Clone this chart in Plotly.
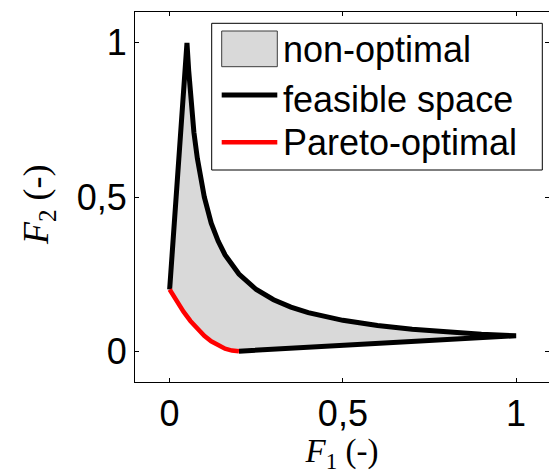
import plotly.graph_objects as go

# Pareto-optimal front (red)
front_x = [0.00, 0.02, 0.04, 0.06, 0.08, 0.10, 0.12, 0.14, 0.16, 0.18, 0.20]
front_y = [0.200, 0.162, 0.128, 0.098, 0.072, 0.050, 0.032, 0.018, 0.008, 0.002, 0.000]

# Feasible-space boundary (black): left edge, upper curve, bottom edge
left_x = [0.00, 0.05]
left_y = [0.20, 1.00]
upper_x = [0.055, 0.06, 0.07, 0.08, 0.09, 0.10, 0.12, 0.14, 0.16, 0.18, 0.20,
           0.25, 0.30, 0.35, 0.40, 0.50, 0.60, 0.70, 0.80, 0.90, 1.00]
upper_y = [0.91, 0.83, 0.71, 0.625, 0.555, 0.50, 0.415, 0.357, 0.312, 0.278, 0.25,
           0.20, 0.167, 0.143, 0.125, 0.10, 0.083, 0.071, 0.062, 0.055, 0.05]
bottom_x = [0.20]
bottom_y = [0.00]

tick_vals = [0, 0.5, 1]
tick_text = ["0", "0,5", "1"]

legend_labels = ["non-optimal", "feasible space", "Pareto-optimal"]

feas_x = left_x + upper_x + bottom_x
feas_y = left_y + upper_y + bottom_y

poly_x = feas_x + front_x[::-1][1:]
poly_y = feas_y + front_y[::-1][1:]

SANS = "Liberation Sans"
SERIF = "Liberation Serif"

fig = go.Figure()
fig.add_trace(go.Scatter(x=poly_x, y=poly_y, mode="lines", fill="toself",
                         fillcolor="#d9d9d9", line=dict(width=0, color="#d9d9d9"),
                         name=legend_labels[0], showlegend=False, hoverinfo="skip"))
fig.add_trace(go.Scatter(x=feas_x, y=feas_y, mode="lines",
                         line=dict(color="black", width=5),
                         name=legend_labels[1], showlegend=False))
fig.add_trace(go.Scatter(x=front_x, y=front_y, mode="lines",
                         line=dict(color="red", width=4.5),
                         name=legend_labels[2], showlegend=False))

# manual legend (paper coordinates)
W, H = 549, 474
ML, MR, MT, MB = 135, 0, 12, 92
pw, ph = W - ML - MR, H - MT - MB

def px(x):
    return (x - ML) / pw

def py(y):
    return 1 - (y - MT) / ph

shapes = [
    dict(type="rect", xref="paper", yref="paper", x0=px(211.7), x1=px(542.3),
         y0=py(170), y1=py(23.3), line=dict(color="black", width=1), fillcolor="white"),
    dict(type="rect", xref="paper", yref="paper", x0=px(221.7), x1=px(277.3),
         y0=py(66.7), y1=py(31), line=dict(color="#3c3c3c", width=1), fillcolor="#d9d9d9"),
    dict(type="line", xref="paper", yref="paper", x0=px(221.7), x1=px(277.3),
         y0=py(95), y1=py(95), line=dict(color="black", width=5)),
    dict(type="line", xref="paper", yref="paper", x0=px(221.7), x1=px(277.3),
         y0=py(142.3), y1=py(142.3), line=dict(color="red", width=4.5)),
]
text_y = [49.2, 99, 142.5]
annotations = [
    dict(xref="paper", yref="paper", x=px(281), y=py(ty), text=lab, showarrow=False,
         xanchor="left", yanchor="middle",
         font=dict(family=SANS, size=36, color="black"))
    for lab, ty in zip(legend_labels, text_y)
]
# y-axis title
annotations.append(dict(xref="paper", yref="paper", x=px(38), y=py(205),
                        text="<i>F</i><sub>2</sub> (-)", showarrow=False, textangle=-90,
                        xanchor="center", yanchor="middle",
                        font=dict(family=SERIF, size=36, color="black")))

axis_common = dict(showgrid=False, zeroline=False, showline=True, linecolor="black",
                   linewidth=1, mirror="allticks", ticks="inside", ticklen=4,
                   tickwidth=1, tickcolor="black", tickvals=tick_vals, ticktext=tick_text,
                   tickfont=dict(family=SANS, size=36, color="black"),
                   automargin=False)

fig.update_layout(
    width=W, height=H, autosize=False,
    margin=dict(l=ML, r=MR, t=MT, b=MB, pad=0),
    paper_bgcolor="white", plot_bgcolor="white",
    showlegend=False,
    xaxis=dict(range=[-0.1, 1.095], title=dict(text="<i>F</i><sub>1</sub> (-)",
               font=dict(family=SERIF, size=33, color="black"),
               standoff=0), **axis_common),
    yaxis=dict(range=[-0.1, 1.1], **axis_common),
    shapes=shapes, annotations=annotations,
)

fig.write_html("out.html")
